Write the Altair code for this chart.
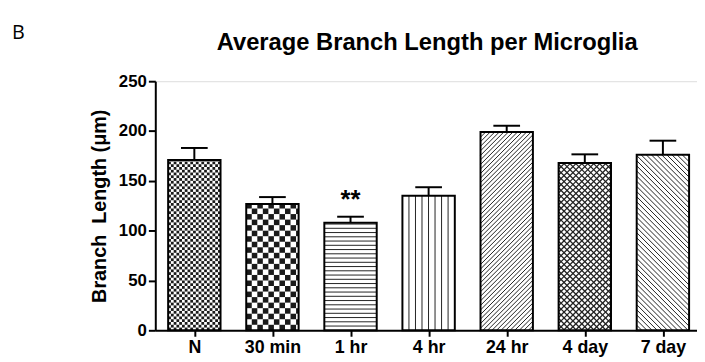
import json
import math
import altair as alt
import pandas as pd

# ---------------- data ----------------
categories = ["N", "30 min", "1 hr", "4 hr", "24 hr", "4 day", "7 day"]
means = [171.0, 126.7, 108.0, 135.0, 199.0, 168.0, 176.3]
errors = [12.0, 7.0, 6.0, 8.6, 6.3, 8.6, 14.0]
significance = ["", "", "**", "", "", "", ""]
patterns = ["checker_fine", "checker_coarse", "hlines", "vlines",
            "diag_up", "crosshatch", "diag_down"]

title_text = "Average Branch Length per Microglia"
y_title = "Branch\u00a0 Length (\u03bcm)"
panel_label = "B"
y_ticks = [0, 50, 100, 150, 200, 250]

# ---------------- layout constants ----------------
Y_MAX = 250
PLOT_W = 548          # visible plot width
RANGE_W = 553         # x range (axis line runs off the page edge)
PLOT_H = 252
PX_X = RANGE_W / len(categories)
PX_Y = PLOT_H / Y_MAX
BAR_HALF_PX = 26.5
CAP_HALF_PX = 13.5
FONT = "Liberation Sans, Arial, sans-serif"

bars = pd.DataFrame({
    "category": categories,
    "mean": means,
    "err": errors,
    "sig": significance,
    "idx": list(range(len(categories))),
})

# ---------------- fill patterns (decoration, clipped to each bar) ----------------
seg_rows, cell_rows = [], []


def add_seg(x0, y0, x1, y1, sw):
    seg_rows.append({"sx": x0 / PX_X, "sx2": x1 / PX_X,
                     "sy": y0 / PX_Y, "sy2": y1 / PX_Y, "sw": sw})


for i, (v, kind) in enumerate(zip(means, patterns)):
    cx = (i + 0.5) * PX_X
    x0, x1 = cx - BAR_HALF_PX, cx + BAR_HALF_PX
    w = x1 - x0
    h = v * PX_Y
    if kind.startswith("checker"):
        s = 2.8 if kind == "checker_fine" else 5.6
        for r in range(math.ceil(h / s)):
            for c in range(math.ceil(w / s)):
                if (r + c) % 2 == 0:
                    cell_rows.append({
                        "cx": (x0 + c * s) / PX_X,
                        "cx2": min(x0 + (c + 1) * s, x1) / PX_X,
                        "cy": (r * s) / PX_Y,
                        "cy2": min((r + 1) * s, h) / PX_Y,
                    })
    elif kind == "hlines":
        s = 4.3
        y = s
        while y < h - 1:
            add_seg(x0, y, x1, y, 1)
            y += s
    elif kind == "vlines":
        s = 6.6
        x = x0 + s
        while x < x1 - 1:
            add_seg(x, 0, x, h, 1)
            x += s
    else:
        dirs = {"diag_up": ["up"], "diag_down": ["down"],
                "crosshatch": ["up", "down"]}[kind]
        s = {"diag_up": 4.6, "diag_down": 5.2, "crosshatch": 6.0}[kind]
        sw = 1.3 if kind == "crosshatch" else 1
        for d in dirs:
            if d == "up":
                c = -w
                while c < h:
                    t0, t1 = max(0, -c), min(w, h - c)
                    if t1 > t0:
                        add_seg(x0 + t0, c + t0, x0 + t1, c + t1, sw)
                    c += s
            else:
                c = 0
                while c < h + w:
                    t0, t1 = max(0, c - h), min(w, c)
                    if t1 > t0:
                        add_seg(x0 + t0, c - t0, x0 + t1, c - t1, sw)
                    c += s

segs = pd.DataFrame(seg_rows)
cells = pd.DataFrame(cell_rows)

# ---------------- scales / axes ----------------
x_scale = alt.Scale(domain=[0, len(categories)], range=[0, RANGE_W], nice=False, zero=False)
y_scale = alt.Scale(domain=[0, Y_MAX], nice=False)

x_axis = alt.Axis(
    values=[i + 0.5 for i in range(len(categories))],
    labelExpr=f"{json.dumps(categories)}[round(datum.value - 0.5)]",
    title=None, grid=False,
    domainColor="black", domainWidth=2,
    tickColor="black", tickWidth=2, tickSize=6,
    labelFont=FONT, labelFontSize=18, labelFontWeight="bold", labelColor="black",
    labelPadding=2, labelOverlap=False, labelFlush=False,
)
y_axis = alt.Axis(
    values=y_ticks, title=y_title, grid=False,
    domainColor="black", domainWidth=2,
    tickColor="black", tickWidth=2, tickSize=7,
    labelFont=FONT, labelFontSize=17, labelFontWeight="bold", labelColor="black",
    labelPadding=2,
    titleFont=FONT, titleFontSize=20, titleFontWeight="bold", titleColor="black",
    titlePadding=9,
)


def X(f):
    return alt.X(f, type="quantitative", scale=x_scale, axis=x_axis)


def Y(f):
    return alt.Y(f, type="quantitative", scale=y_scale, axis=y_axis)


base = alt.Chart(bars).transform_calculate(
    center="datum.idx + 0.5",
    left=f"datum.idx + 0.5 - {BAR_HALF_PX / PX_X}",
    right=f"datum.idx + 0.5 + {BAR_HALF_PX / PX_X}",
    cap_l=f"datum.idx + 0.5 - {CAP_HALF_PX / PX_X}",
    cap_r=f"datum.idx + 0.5 + {CAP_HALF_PX / PX_X}",
    top="datum.mean + datum.err",
    zero="0",
    sig_y="datum.mean + datum.err + 8.5",
)

fill_layer = base.mark_rect(fill="white", stroke=None).encode(
    x=X("left"), x2="right", y=Y("zero"), y2="mean")

cell_layer = alt.Chart(cells).mark_rect(fill="#1a1a1a", stroke=None).encode(
    x=X("cx"), x2="cx2", y=Y("cy"), y2="cy2")

seg_layer = alt.Chart(segs).mark_rule(color="#222222").encode(
    x=X("sx"), x2="sx2", y=Y("sy"), y2="sy2",
    strokeWidth=alt.StrokeWidth("sw:Q", scale=None))

outline_layer = base.mark_rect(filled=False, stroke="black", strokeWidth=2).encode(
    x=X("left"), x2="right", y=Y("zero"), y2="mean")

err_layer = base.mark_rule(color="black", strokeWidth=2).encode(
    x=X("center"), y=Y("mean"), y2="top")

cap_layer = base.mark_rule(color="black", strokeWidth=2).encode(
    x=X("cap_l"), x2="cap_r", y=Y("top"))

sig_layer = base.mark_text(
    font=FONT, fontSize=26, fontWeight="bold", color="black",
    align="center", baseline="alphabetic",
).encode(x=X("center"), y=Y("sig_y"), text="sig:N")

label_layer = alt.Chart(alt.Data(values=[{"label": panel_label}])).mark_text(
    font="Open Sans, sans-serif", fontSize=20, fontWeight="normal", color="black",
    align="left", baseline="alphabetic",
).encode(x=alt.value(-145), y=alt.value(-43), text="label:N")

title_layer = alt.Chart(alt.Data(values=[{"label": title_text}])).mark_text(
    font=FONT, fontSize=24, fontWeight="bold", color="black",
    align="center", baseline="alphabetic",
).encode(x=alt.value(PLOT_W / 2 + 1), y=alt.value(-32), text="label:N")

chart = alt.layer(
    fill_layer, cell_layer, seg_layer, outline_layer,
    err_layer, cap_layer, sig_layer, label_layer, title_layer,
).properties(
    width=PLOT_W, height=PLOT_H,
    padding={"left": 149, "top": 72, "right": 0, "bottom": 30},
    autosize=alt.AutoSizeParams(type="none"),
).configure_view(stroke=None).configure(background="white")

chart.save("out.html", embed_options={"renderer": "svg", "actions": False})
